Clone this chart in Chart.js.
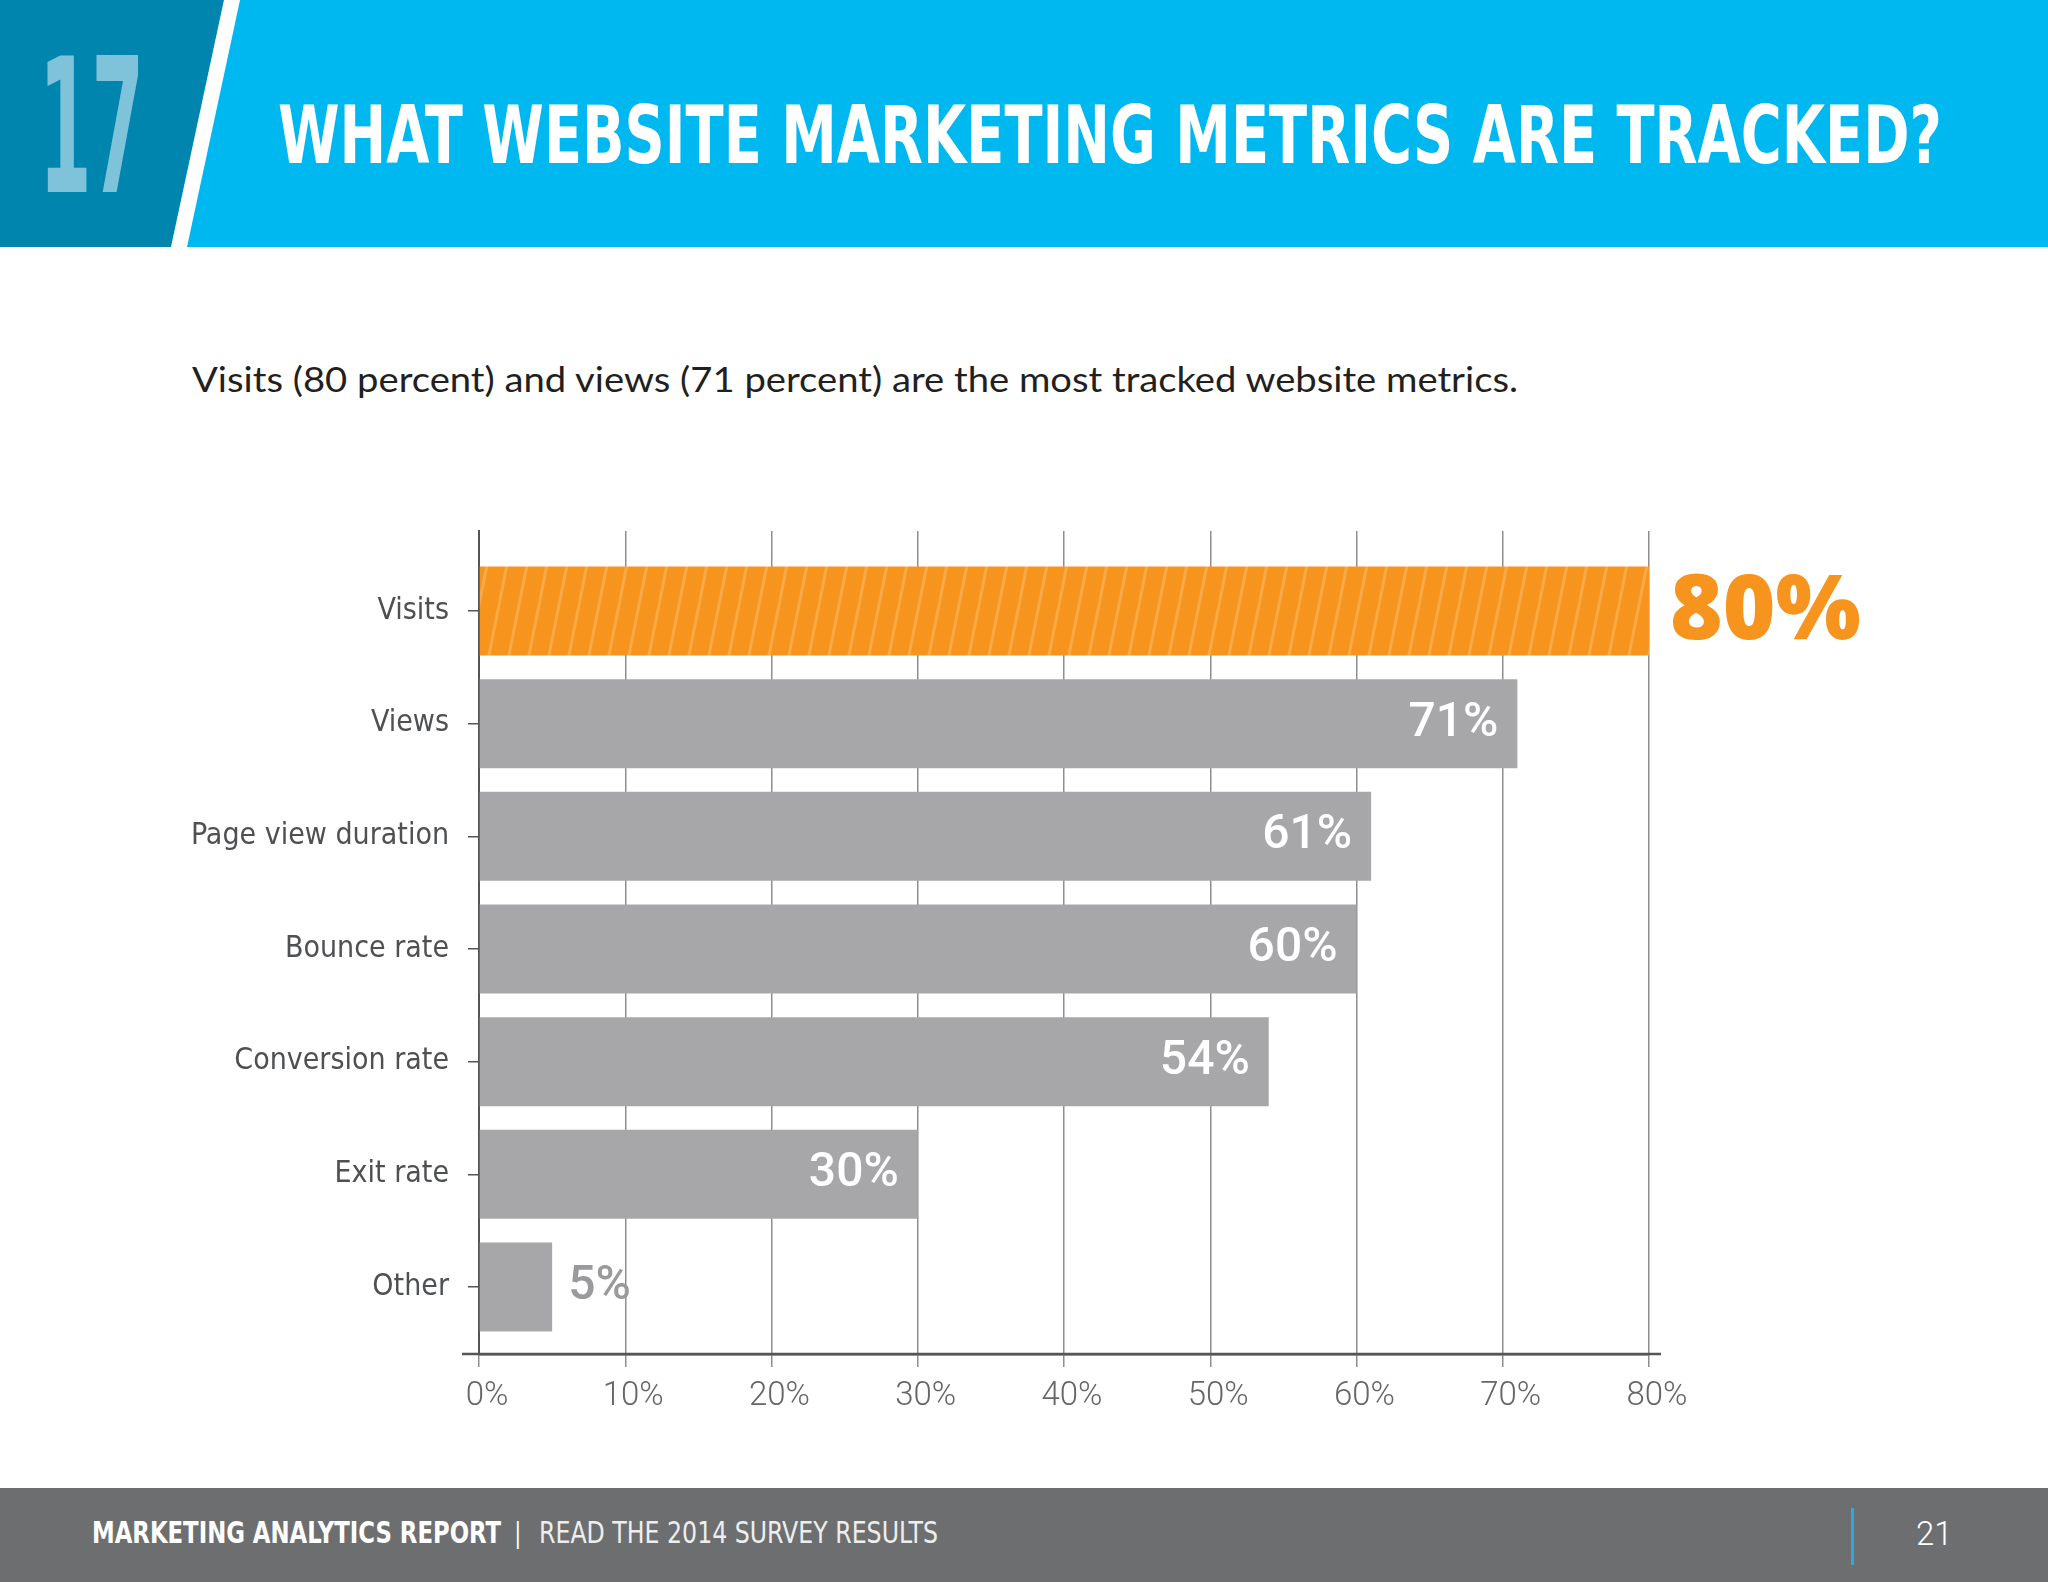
<!DOCTYPE html>
<html>
<head>
<meta charset="utf-8">
<script src="https://cdn.jsdelivr.net/npm/chart.js@4.4.1/dist/chart.umd.min.js"></script>
<style>
html, body { margin: 0; padding: 0; background: #fff; }
#page { position: relative; width: 2048px; height: 1582px; overflow: hidden; background: #fff; }
.abs { position: absolute; white-space: nowrap; line-height: 1; transform-origin: 0 0; }
#band { left: 0; top: 0; width: 2048px; height: 247px; background: #00B8F0; }
#dark { left: 0; top: 0; width: 260px; height: 247px; background: #0086AE; clip-path: polygon(0 0, 224px 0, 171px 247px, 0 247px); }
#stripe { left: 0; top: 0; width: 260px; height: 247px; background: #fff; clip-path: polygon(224px 0, 240px 0, 187px 247px, 171px 247px); }
#num { left: 39px; top: 17px; font: bold 188px 'Liberation Sans Narrow', 'DejaVu Sans Condensed', sans-serif; color: #7FC3DA; }
#title { left: 278px; top: 89px; font: bold 80px 'Liberation Sans Narrow', 'DejaVu Sans Condensed', sans-serif; color: #fff; }
#sub { left: 192px; top: 357px; font: 400 35px 'Lato', 'Open Sans', sans-serif; color: #231f20; }
#chartBox { left: 0; top: 500px; width: 2048px; height: 930px; }
#foot { left: 0; top: 1488px; width: 2048px; height: 94px; background: #6D6E70; }
#f1 { left: 92px; top: 1514px; font: bold 31px 'Liberation Sans Narrow', 'DejaVu Sans Condensed', sans-serif; color: #fff; }
#fbar { left: 514px; top: 1513px; font: 300 34px 'Roboto', sans-serif; color: #fff; }
#f2 { left: 539px; top: 1514px; font: 31px 'Liberation Sans Narrow', 'DejaVu Sans Condensed', sans-serif; color: #eee; }
#pline { left: 1851px; top: 1508px; width: 3px; height: 57px; background: #29ABE2; }
#pnum { left: 1916px; top: 1514px; font: 300 33px 'Roboto', sans-serif; color: #fff; }
</style>
</head>
<body>
<div id="page">
  <div class="abs" id="band"></div>
  <div class="abs" id="dark"></div>
  <div class="abs" id="stripe"></div>
  <div class="abs fit" id="num" data-w="105">17</div>
  <div class="abs fit" id="title" data-w="1664">WHAT WEBSITE MARKETING METRICS ARE TRACKED?</div>
  <div class="abs fit" id="sub" data-w="1326">Visits (80 percent) and views (71 percent) are the most tracked website metrics.</div>
  <div class="abs" id="chartBox"><canvas id="chart" width="2048" height="930"></canvas></div>
  <div class="abs" id="foot"></div>
  <div class="abs fit" id="f1" data-w="409">MARKETING ANALYTICS REPORT</div>
  <div class="abs" id="fbar">|</div>
  <div class="abs fit" id="f2" data-w="399">READ THE 2014 SURVEY RESULTS</div>
  <div class="abs" id="pline"></div>
  <div class="abs" id="pnum">21</div>
</div>
<script>
const categories = ['Visits', 'Views', 'Page view duration', 'Bounce rate', 'Conversion rate', 'Exit rate', 'Other'];
const shares = [80, 71, 61, 60, 54, 30, 5];
const xTicks = [0, 10, 20, 30, 40, 50, 60, 70, 80];

const ORANGE = '#F7941D';
const GRAY = '#A7A6A9';

// squeeze header/footer text to the widths seen in the picture
document.querySelectorAll('.fit').forEach(el => {
  const w = el.getBoundingClientRect().width;
  el.style.transform = 'scaleX(' + (Number(el.dataset.w) / w) + ')';
});

function makeHatch() {
  const c = document.createElement('canvas');
  c.width = 20; c.height = 100;
  const g = c.getContext('2d');
  g.fillStyle = ORANGE; g.fillRect(0, 0, 20, 100);
  g.strokeStyle = 'rgba(252, 190, 110, 0.5)'; g.lineWidth = 3;
  for (let k = -1; k <= 1; k++) {
    g.beginPath(); g.moveTo(k * 20, 100); g.lineTo(k * 20 + 20, 0); g.stroke();
  }
  return g.createPattern(c, 'repeat');
}
const hatch = makeHatch();

const valueLabels = {
  id: 'valueLabels',
  afterDatasetsDraw(chart) {
    const ctx = chart.ctx;
    const meta = chart.getDatasetMeta(0);
    meta.data.forEach((bar, i) => {
      const txt = shares[i] + '%';
      ctx.save();
      ctx.textBaseline = 'middle';
      if (i === 0) {
        ctx.font = "800 90px 'Open Sans', sans-serif";
        ctx.fillStyle = ORANGE; ctx.textAlign = 'left';
        ctx.fillText(txt, bar.x + 21, bar.y + 2);
      } else if (shares[i] >= 20) {
        ctx.font = "500 48px 'Roboto', sans-serif";
        ctx.fillStyle = '#fff'; ctx.textAlign = 'right';
        ctx.fillText(txt, bar.x - 19, bar.y);
      } else {
        ctx.font = "500 48px 'Roboto', sans-serif";
        ctx.fillStyle = '#9a9a9c'; ctx.textAlign = 'left';
        ctx.fillText(txt, bar.x + 16, bar.y);
      }
      ctx.restore();
    });
  },
  afterDraw(chart) {
    // bottom axis line runs a little past both ends of the plot
    const { ctx, chartArea } = chart;
    ctx.save();
    ctx.strokeStyle = '#555'; ctx.lineWidth = 2.5;
    ctx.beginPath();
    ctx.moveTo(chartArea.left - 17, chartArea.bottom);
    ctx.lineTo(chartArea.right + 12, chartArea.bottom);
    ctx.stroke();
    ctx.restore();
  }
};

new Chart(document.getElementById('chart').getContext('2d'), {
  type: 'bar',
  data: {
    datasets: [{
      data: categories.map((c, i) => ({ x: shares[i], y: i })),
      backgroundColor: ctx => ctx.dataIndex === 0 ? hatch : GRAY,
      borderWidth: 0,
      categoryPercentage: 1,
      barPercentage: 0.79
    }]
  },
  options: {
    indexAxis: 'y',
    responsive: false,
    animation: false,
    layout: { padding: { left: 0, top: 31, right: 399, bottom: 0 } },
    plugins: { legend: { display: false }, tooltip: { enabled: false } },
    scales: {
      x: {
        type: 'linear',
        min: 0, max: 80,
        afterBuildTicks: s => { s.ticks = xTicks.map(v => ({ value: v })); },
        afterFit: s => { s.height = 76; },
        grid: { color: '#8e8e8e', lineWidth: 1.5, tickLength: 13, drawTicks: true },
        border: { color: '#555', width: 2.5 },
        ticks: {
          callback: v => v + '%',
          color: '#666',
          font: { family: 'Roboto', size: 33, weight: '300' },
          padding: 10,
          labelOffset: 8,
          maxRotation: 0
        }
      },
      y: {
        type: 'linear',
        reverse: true,
        offset: false,
        min: -0.71, max: 6.595,
        afterBuildTicks: s => { s.ticks = categories.map((c, i) => ({ value: i })); },
        afterFit: s => { s.width = 479; s.paddingTop = 0; s.paddingBottom = 0; },
        grid: { offset: false, drawOnChartArea: false, drawTicks: true, tickLength: 11, color: '#555', lineWidth: 1.5 },
        border: { color: '#555', width: 2 },
        ticks: {
          callback: v => categories[v],
          color: '#4f5052',
          font: { family: "'Liberation Sans Narrow', 'DejaVu Sans Condensed', sans-serif", size: 30 },
          padding: 19
        }
      }
    }
  },
  plugins: [valueLabels]
});
</script>
</body>
</html>
